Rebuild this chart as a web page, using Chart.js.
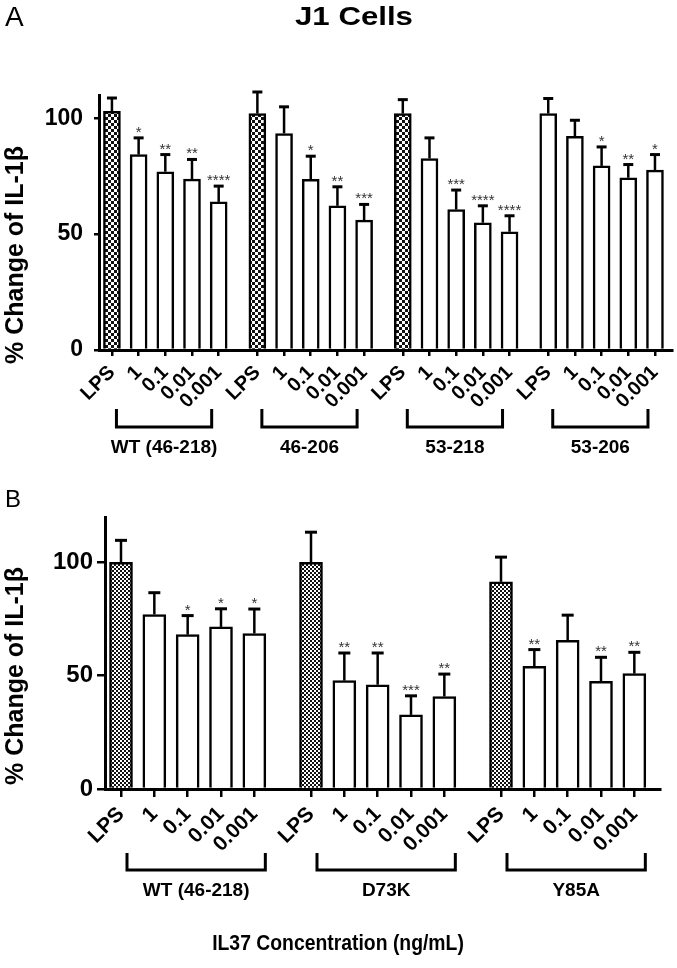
<!DOCTYPE html>
<html>
<head>
<meta charset="utf-8">
<script src="https://cdn.jsdelivr.net/npm/chart.js@4.4.0/dist/chart.umd.min.js"></script>
<style>
  body { margin: 0; background: #fff; }
  #wrap { position: relative; width: 677px; height: 968px; overflow: hidden;
          font-family: "Liberation Sans", Arial, sans-serif; color: #000; }
  canvas { position: absolute; left: 0; }
  .txt { position: absolute; white-space: nowrap; line-height: 1; }
  .ytitle { font-weight: bold; font-size: 25px; transform: translate(-50%, -50%) rotate(-90deg); }
</style>
</head>
<body>
<div id="wrap">
  <canvas id="chartA" width="677" height="470" style="top:0;width:677px;height:470px"></canvas>
  <canvas id="chartB" width="677" height="498" style="top:470px;width:677px;height:498px"></canvas>

  <div class="txt" style="left:5px;top:3px;font-size:28px;">A</div>
  <div class="txt" style="left:354px;top:3px;font-size:26px;font-weight:bold;transform:translateX(-50%) scaleX(1.2);">J1 Cells</div>
  <div class="txt" style="left:5px;top:487px;font-size:24px;">B</div>
  <div class="txt ytitle" style="left:14px;top:255px;">% Change of IL-1β</div>
  <div class="txt ytitle" style="left:14px;top:676px;">% Change of IL-1β</div>
  <div class="txt" style="left:338px;top:932px;font-size:22px;font-weight:bold;transform:translateX(-50%) scaleX(0.88);">IL37 Concentration (ng/mL)</div>
</div>

<script>
// Etiquetas comunes
const concLabels = ['LPS', '1', '0.1', '0.01', '0.001'];
const yTicks = [0, 50, 100];

// Panel A
const groupsA = ['WT (46-218)', '46-206', '53-218', '53-206'];
const meansA = [
    [103, 84.3, 76.9, 73.7, 63.9],
    [102, 93.4, 73.6, 62.2, 56],
    [102, 82.6, 60.6, 54.9, 51],
    [102, 92.2, 79.4, 74.3, 77.6]
];
const errA = [
    [5.7, 7.2, 7.4, 8.5, 6.8],
    [9.3, 11.5, 10, 8.2, 6.8],
    [6, 8.9, 8.4, 7.3, 6.9],
    [6.5, 6.9, 8.2, 5.7, 6.7]
];
const starsA = [
    ['', '*', '**', '**', '****'],
    ['', '', '*', '**', '***'],
    ['', '', '***', '****', '****'],
    ['', '', '*', '**', '*']
];

// Panel B
const groupsB = ['WT (46-218)', 'D73K', 'Y85A'];
const meansB = [
    [100, 77, 68.1, 71.5, 68.6],
    [100, 47.8, 46, 32.7, 40.8],
    [91.4, 54.1, 65.6, 47.5, 50.9]
];
const errB = [
    [9.7, 9.6, 8.4, 8, 10.8],
    [13.3, 12.2, 14, 8.4, 9.9],
    [10.9, 7.4, 11.1, 10.6, 9.4]
];
const starsB = [
    ['', '', '*', '*', '*'],
    ['', '**', '**', '***', '**'],
    ['', '**', '', '**', '**']
];

Chart.defaults.font.family = '"Liberation Sans", Arial, sans-serif';
Chart.defaults.color = '#000';

function checker(canvas, cell, dark) {
    const c = document.createElement('canvas');
    c.width = c.height = cell * 2;
    const g = c.getContext('2d');
    g.fillStyle = '#fff';
    g.fillRect(0, 0, cell * 2, cell * 2);
    g.fillStyle = dark;
    g.fillRect(0, 0, cell, cell);
    g.fillRect(cell, cell, cell, cell);
    return canvas.getContext('2d').createPattern(c, 'repeat');
}

function makePanel(id, groups, means, errs, stars, s) {
    const canvas = document.getElementById(id);
    const pattern = checker(canvas, s.cell, '#111');
    const points = [];
    const fills = [];
    groups.forEach((name, g) => {
        concLabels.forEach((lab, i) => {
            points.push({ x: g * s.gap + i, y: means[g][i], err: errs[g][i], star: stars[g][i] });
            fills.push(i === 0 && s.checkered[g] ? pattern : '#fff');
        });
    });
    const tickPos = points.map(p => p.x);

    // barras de error y asteriscos
    const errorBars = {
        id: 'errorBars',
        afterDatasetsDraw(chart) {
            const ctx = chart.ctx;
            const ys = chart.scales.y;
            const meta = chart.getDatasetMeta(0);
            ctx.save();
            ctx.strokeStyle = '#000';
            meta.data.forEach((bar, i) => {
                const p = points[i];
                const top = ys.getPixelForValue(p.y + p.err);
                ctx.lineWidth = 2.5;
                ctx.beginPath();
                ctx.moveTo(bar.x, bar.y);
                ctx.lineTo(bar.x, top);
                ctx.stroke();
                ctx.lineWidth = 3;
                ctx.beginPath();
                ctx.moveTo(bar.x - s.cap / 2, top);
                ctx.lineTo(bar.x + s.cap / 2, top);
                ctx.stroke();
                if (p.star) {
                    ctx.fillStyle = '#333';
                    ctx.font = '15px "Liberation Sans", Arial, sans-serif';
                    ctx.textAlign = 'center';
                    ctx.textBaseline = 'alphabetic';
                    ctx.fillText(p.star, bar.x, top - 1);
                }
            });
            ctx.restore();
        }
    };

    // corchetes de grupo
    const brackets = {
        id: 'brackets',
        afterDraw(chart) {
            const ctx = chart.ctx;
            const xs = chart.scales.x;
            const base = chart.scales.y.getPixelForValue(0);
            ctx.save();
            ctx.strokeStyle = '#000';
            ctx.fillStyle = '#000';
            ctx.lineWidth = 3;
            ctx.font = 'bold ' + s.groupFont + 'px "Liberation Sans", Arial, sans-serif';
            ctx.textAlign = 'center';
            ctx.textBaseline = 'alphabetic';
            groups.forEach((name, g) => {
                const l = xs.getPixelForValue(g * s.gap) + s.offL;
                const r = xs.getPixelForValue(g * s.gap + 4) + s.offR;
                ctx.beginPath();
                ctx.moveTo(l, base + s.brTop);
                ctx.lineTo(l, base + s.brBot);
                ctx.lineTo(r, base + s.brBot);
                ctx.lineTo(r, base + s.brTop);
                ctx.stroke();
                ctx.fillText(name, (l + r) / 2, base + s.labY);
            });
            ctx.restore();
        }
    };

    return new Chart(canvas, {
        type: 'bar',
        data: {
            datasets: [{
                data: points,
                backgroundColor: fills,
                borderColor: '#000',
                borderWidth: 2.5,
                barThickness: s.bar
            }]
        },
        options: {
            responsive: false,
            animation: false,
            events: [],
            layout: { padding: { top: s.top, right: s.right, left: 0, bottom: 0 } },
            plugins: { legend: { display: false }, tooltip: { enabled: false } },
            scales: {
                x: {
                    type: 'linear',
                    min: s.xMin,
                    max: s.xMax,
                    offset: false,
                    z: 1,
                    afterBuildTicks: sc => { sc.ticks = tickPos.map(v => ({ value: v })); },
                    afterFit: sc => { sc.height = s.xH; },
                    grid: { offset: false, drawOnChartArea: false, drawTicks: true, tickLength: s.tickX, color: '#000', lineWidth: 2.5 },
                    border: { display: true, color: '#000', width: 3 },
                    ticks: {
                        autoSkip: false, minRotation: 45, maxRotation: 45, padding: s.xPad,
                        font: { size: s.tickFont, weight: 'bold' },
                        callback: (v, i) => concLabels[i % concLabels.length]
                    }
                },
                y: {
                    min: 0,
                    max: s.yMax,
                    z: 1,
                    afterBuildTicks: sc => { sc.ticks = yTicks.map(v => ({ value: v })); },
                    afterFit: sc => { sc.width = s.yW; },
                    grid: { drawOnChartArea: false, drawTicks: true, tickLength: s.tickY, color: '#000', lineWidth: 2.5 },
                    border: { display: true, color: '#000', width: 3 },
                    ticks: { padding: s.yPad, font: { size: s.yFont, weight: 'bold' } }
                }
            }
        },
        plugins: [errorBars, brackets]
    });
}

makePanel('chartA', groupsA, meansA, errA, starsA, {
    gap: 5.45, xMin: -0.485, xMax: 21.0, yMax: 110, top: 95, right: 2, yW: 99, xH: 120,
    bar: 17, cell: 3, cap: 10, tickX: 6, tickY: 5, yPad: 11, yFont: 23, tickFont: 20, xPad: 5,
    checkered: [true, true, true, false],
    offL: 4.5, offR: -7, brTop: 59, brBot: 77, labY: 103, groupFont: 19
});

makePanel('chartB', groupsB, meansB, errB, starsB, {
    gap: 5.7, xMin: -0.48, xMax: 16.17, yMax: 120, top: 47, right: 17, yW: 105, xH: 179,
    bar: 23, cell: 2, cap: 12, tickX: 8, tickY: 8, yPad: 4, yFont: 24, tickFont: 21, xPad: 5,
    checkered: [true, true, true],
    offL: 6, offR: 11, brTop: 64, brBot: 81, labY: 107, groupFont: 19
});
</script>
</body>
</html>
